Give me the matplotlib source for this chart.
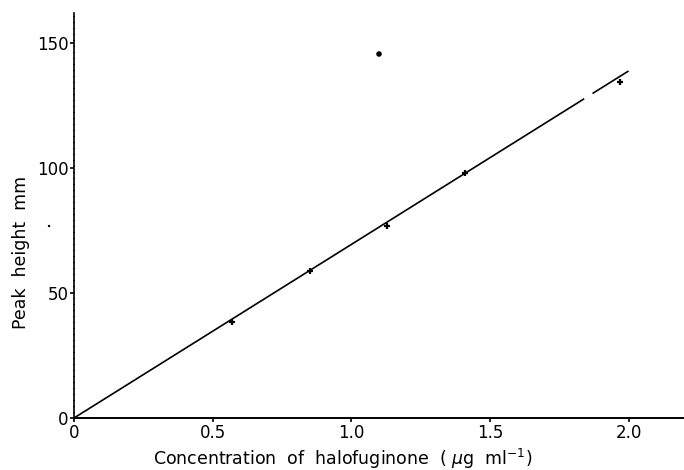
import matplotlib
matplotlib.use("Agg")
import matplotlib.pyplot as plt

# calibration points
conc = [0.57, 0.85, 1.13, 1.41, 1.97]
peak = [38.5, 59, 77, 98, 134.5]

# fitted line, drawn in two pieces (small break near the top end)
fit_x_a = [0.0, 1.84]
fit_y_a = [0.0, 127.7]
fit_x_b = [1.87, 2.0]
fit_y_b = [129.8, 138.8]

# stray specks in the scan
speck_x = [1.10, -0.09]
speck_y = [145.6, 76.8]
speck_size = [16, 3]

x_ticks = [0, 0.5, 1.0, 1.5, 2.0]
x_labels = ["0", "0.5", "1.0", "1.5", "2.0"]
y_ticks = [0, 50, 100, 150]
y_labels = ["0", "50", "100", "150"]

plt.rcParams["font.family"] = ["DejaVu Sans"]

W, H = 684, 470
fig = plt.figure(figsize=(W / 100, H / 100), dpi=100)
ax = fig.add_axes([74 / W, 52 / H, 610 / W, 405 / H])

ax.plot(fit_x_a, fit_y_a, color="black", linewidth=1.2, solid_capstyle="butt")
ax.plot(fit_x_b, fit_y_b, color="black", linewidth=1.2, solid_capstyle="butt")
ax.plot(conc, peak, linestyle="none", marker="+", markersize=5,
        markeredgewidth=1.6, color="black")
ax.scatter(speck_x, speck_y, s=speck_size, color="black", marker="o",
           clip_on=False, linewidths=0)

ax.set_xlim(0, 2.2)
ax.set_ylim(0, 162)
ax.set_xticks(x_ticks)
ax.set_xticklabels(x_labels)
ax.set_yticks(y_ticks)
ax.set_yticklabels(y_labels)

for side in ("top", "right"):
    ax.spines[side].set_visible(False)
ax.spines["left"].set_linewidth(1.2)
ax.spines["left"].set_linestyle((0, (3, 0.6)))
ax.spines["bottom"].set_linewidth(1.4)

ax.tick_params(axis="both", direction="out", length=3, width=1.2,
               labelsize=12, pad=1, colors="black")

fig.text(343 / W, 1 - 459 / H, "Concentration  of  halofuginone  ( $\\mu$g  ml$^{-1}$)",
         fontsize=12.5, ha="center", va="center")
fig.text(21 / W, 1 - 252 / H, "Peak  height  mm", fontsize=12.5,
         rotation=90, ha="center", va="center")

fig.savefig("out.png", dpi=100)
